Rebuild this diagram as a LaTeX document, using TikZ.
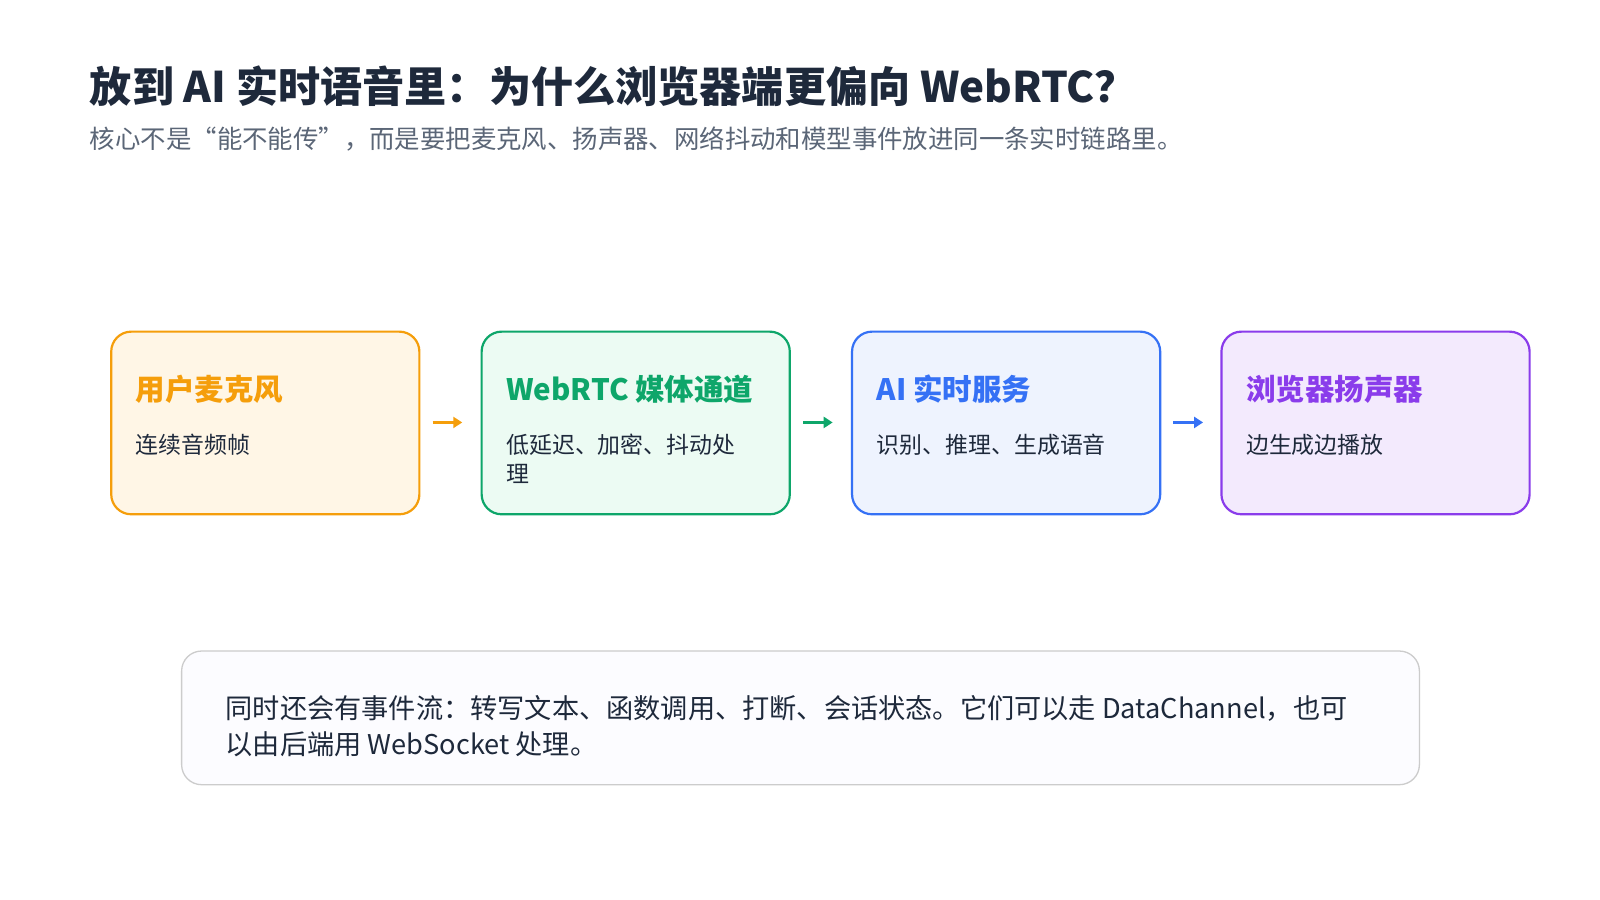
\documentclass[tikz,border=0pt]{standalone}
\usepackage{fontspec}
\setmainfont{Noto Sans CJK SC}
\usetikzlibrary{arrows.meta}
\definecolor{ink}{HTML}{1E293B}
\definecolor{sub}{HTML}{5B6677}
\definecolor{oB}{HTML}{F59E0B}\definecolor{oF}{HTML}{FFF6E6}
\definecolor{gB}{HTML}{0EA66A}\definecolor{gF}{HTML}{ECFBF3}
\definecolor{bB}{HTML}{3571F5}\definecolor{bF}{HTML}{EEF3FE}
\definecolor{pB}{HTML}{8A3CEB}\definecolor{pF}{HTML}{F3EAFD}
\begin{document}
\begin{tikzpicture}[x=1.0204bp,y=-1.0204bp,
 box/.style={rounded corners=20bp,line width=2.2bp},
 ttl/.style={anchor=base west,font=\fontsize{29.6}{34}\selectfont\bfseries},
 body/.style={anchor=north west,font=\fontsize{23}{29.5}\selectfont,text=ink,align=left,inner sep=0pt},
 arr/.style={line width=3bp,-{Triangle[length=9bp,width=11bp]}}]
\useasboundingbox[fill=white] (0,0) rectangle (1568,882);
\node[anchor=base west,text=ink,font=\fontsize{42.3}{48}\selectfont\bfseries,inner sep=0pt] (t) at (88,100) {放到 AI 实时语音里：为什么浏览器端更偏向 WebRTC？};
\node[anchor=base west,text=sub,font=\fontsize{25.5}{30}\selectfont,inner sep=0pt] (s) at (88,146) {核心不是“能不能传”，而是要把麦克风、扬声器、网络抖动和模型事件放进同一条实时链路里。};
\foreach \i/\x/\B/\F/\T/\D in {1/109/oB/oF/用户麦克风/连续音频帧,2/472/gB/gF/WebRTC 媒体通道/{低延迟、加密、抖动处\\理},3/835/bB/bF/AI 实时服务/识别、推理、生成语音,4/1197/pB/pF/浏览器扬声器/边生成边播放}{
 \draw[box,draw=\B,fill=\F] (\x,325) rectangle ++(302,179);
 \node[coordinate] (b\i) at (\x+151,414) {};
 \node[ttl,text=\B,inner sep=0pt] (h\i) at (\x+24,392) {\T};
 \node[body] (d\i) at (\x+24,425) {\D};
}
\node[coordinate] (a1s) at (424,414) {};\node[coordinate] (a1e) at (453,414) {};
\node[coordinate] (a2s) at (787,414) {};\node[coordinate] (a2e) at (816,414) {};
\node[coordinate] (a3s) at (1150,414) {};\node[coordinate] (a3e) at (1179,414) {};
\draw[arr,oB] (a1s) -- (a1e);
\draw[arr,gB] (a2s) -- (a2e);
\draw[arr,bB] (a3s) -- (a3e);
\draw[rounded corners=20bp,line width=1.3bp,draw=black!20,fill=black!2.5!blue!1!white] (178,638) rectangle (1391,769);
\node[body,font=\fontsize{27.3}{36.5}\selectfont] (n) at (221,681) {同时还会有事件流：转写文本、函数调用、打断、会话状态。它们可以走 DataChannel，也可\\以由后端用 WebSocket 处理。};
\end{tikzpicture}
\end{document}
